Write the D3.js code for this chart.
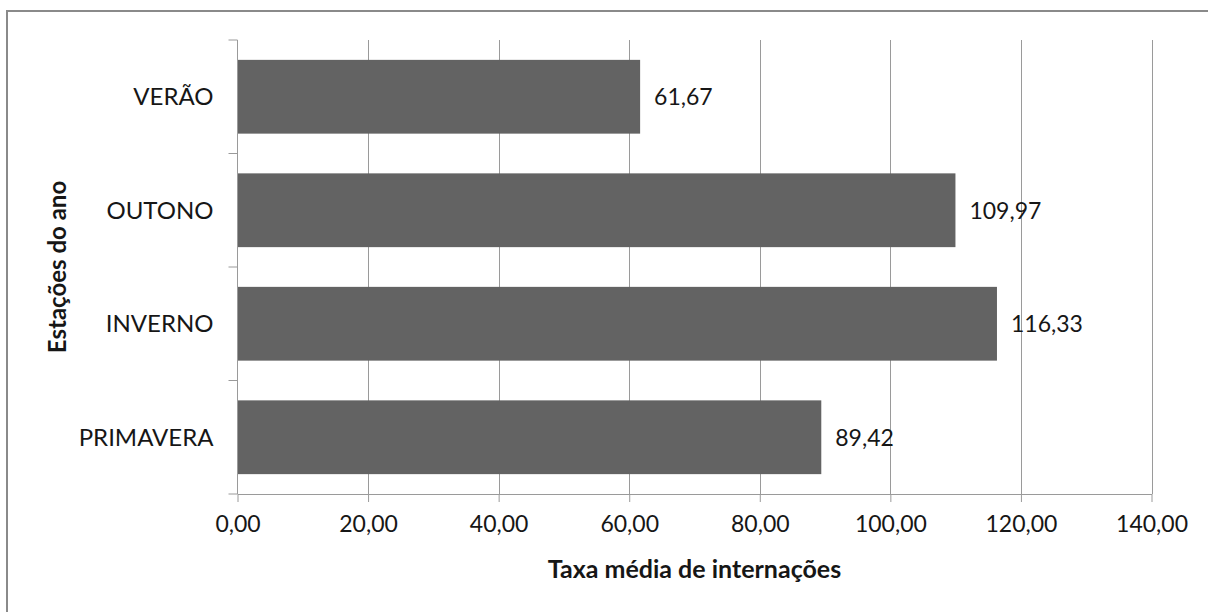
<!DOCTYPE html>
<html>
<head>
<meta charset="utf-8">
<script src="https://cdn.jsdelivr.net/npm/d3@7"></script>
<style>
  html, body { margin: 0; padding: 0; background: #fff; }
  svg { display: block; }
  text { font-family: Lato, "Open Sans", sans-serif; fill: #161616; }
</style>
</head>
<body>
<svg id="chart" width="1208" height="612"></svg>
<script>
// Seasons and mean hospitalisation rates
const categories = ["VERÃO", "OUTONO", "INVERNO", "PRIMAVERA"];
const values = [61.67, 109.97, 116.33, 89.42];
const xTicks = [0, 20, 40, 60, 80, 100, 120, 140];
const xTitle = "Taxa média de internações";
const yTitle = "Estações do ano";

const svg = d3.select("#chart");
const W = 1208, H = 612;
const plot = { left: 237.5, right: 1151.5, top: 40, bottom: 494 };

const fmt = v => d3.format(".2f")(v).replace(".", ",");

// Chart frame
svg.append("rect")
  .attr("x", 7).attr("y", 11)
  .attr("width", W + 20).attr("height", H + 20)
  .attr("fill", "#fff")
  .attr("stroke", "#8a8a8a").attr("stroke-width", 2);

const x = d3.scaleLinear().domain([0, 140]).range([plot.left, plot.right]);
const y = d3.scaleBand().domain(categories).range([plot.top, plot.bottom])
  .paddingInner(0.35).paddingOuter(0.175);
const yBand = d3.scaleBand().domain(categories).range([plot.top, plot.bottom]);

// Vertical gridlines
svg.append("g").selectAll("line").data(xTicks.slice(1)).join("line")
  .attr("x1", d => Math.round(x(d)) + 0.5).attr("x2", d => Math.round(x(d)) + 0.5)
  .attr("y1", plot.top).attr("y2", plot.bottom)
  .attr("stroke", "#9a9a9a").attr("stroke-width", 1);

// Bars
svg.append("g").selectAll("rect").data(categories).join("rect")
  .attr("x", x(0))
  .attr("y", d => y(d))
  .attr("width", (d, i) => x(values[i]) - x(0))
  .attr("height", y.bandwidth())
  .attr("fill", "#636363");

// Value labels
svg.append("g").selectAll("text").data(categories).join("text")
  .attr("x", (d, i) => x(values[i]) + 14)
  .attr("y", d => y(d) + y.bandwidth() / 2)
  .attr("dy", "0.36em")
  .attr("font-size", 23)
  .text((d, i) => fmt(values[i]));

// X axis
const xAxis = svg.append("g")
  .attr("transform", `translate(0,${plot.bottom})`)
  .call(d3.axisBottom(x).tickValues(xTicks).tickFormat(fmt).tickSize(8).tickSizeOuter(0).tickPadding(14));
xAxis.select(".domain").attr("stroke", "#9a9a9a");
xAxis.selectAll(".tick line").attr("stroke", "#9a9a9a");
xAxis.selectAll(".tick text").attr("font-size", 23).attr("font-family", "Lato, sans-serif").attr("fill", "#161616");

// Y axis: ticks at band boundaries, labels at band centres
const yAxis = svg.append("g").attr("transform", `translate(${plot.left},0)`);
yAxis.append("line")
  .attr("x1", 0).attr("x2", 0).attr("y1", plot.top).attr("y2", plot.bottom)
  .attr("stroke", "#9a9a9a");
const bounds = categories.map(c => yBand(c)).concat([plot.bottom]);
yAxis.selectAll("line.tk").data(bounds).join("line").attr("class", "tk")
  .attr("x1", -9).attr("x2", 0)
  .attr("y1", d => d).attr("y2", d => d)
  .attr("stroke", "#9a9a9a");
yAxis.selectAll("text").data(categories).join("text")
  .attr("x", -24)
  .attr("y", d => yBand(d) + yBand.bandwidth() / 2)
  .attr("dy", "0.36em")
  .attr("text-anchor", "end")
  .attr("font-size", 24)
  .text(d => d);

// Axis titles
svg.append("text")
  .attr("x", (plot.left + plot.right) / 2).attr("y", 578)
  .attr("text-anchor", "middle")
  .attr("font-size", 25).attr("font-weight", "bold")
  .text(xTitle);
svg.append("text")
  .attr("transform", `translate(66,${(plot.top + plot.bottom) / 2}) rotate(-90)`)
  .attr("text-anchor", "middle")
  .attr("font-size", 24).attr("font-weight", "bold")
  .text(yTitle);
</script>
</body>
</html>
